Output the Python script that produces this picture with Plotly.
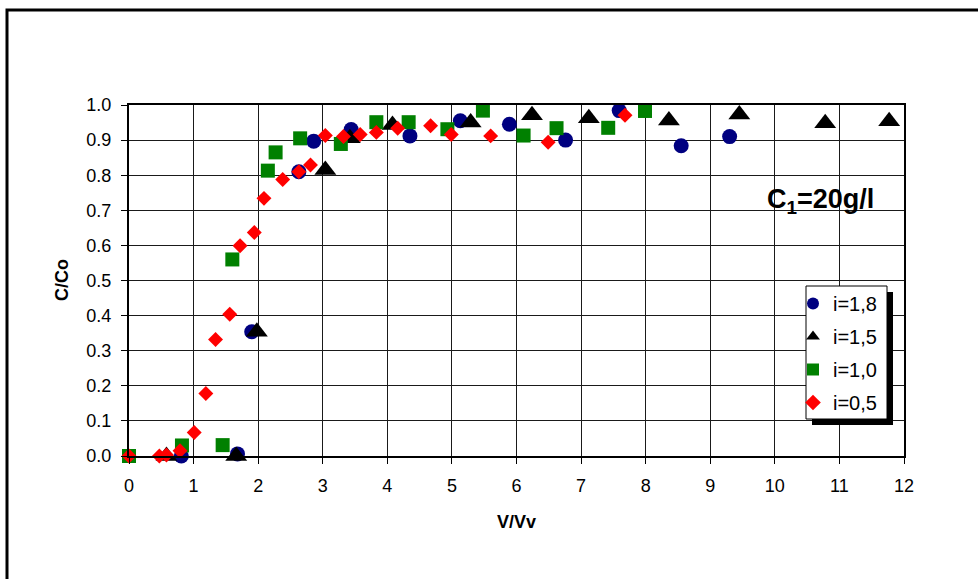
import plotly.graph_objects as go

# Breakthrough curves: relative concentration C/Co vs. pore volumes V/Vv
x_18 = [0.81, 1.68, 1.90, 2.63, 2.86, 3.44, 4.35, 5.13, 5.89, 6.76, 7.59, 8.55, 9.30]
y_18 = [0.000, 0.006, 0.354, 0.810, 0.897, 0.930, 0.912, 0.955, 0.945, 0.900, 0.984, 0.884, 0.910]

x_15 = [0.58, 1.66, 1.98, 3.04, 3.42, 4.08, 5.29, 6.24, 7.12, 8.36, 9.45, 10.78, 11.77]
y_15 = [0.000, 0.000, 0.354, 0.815, 0.905, 0.943, 0.950, 0.971, 0.962, 0.956, 0.973, 0.948, 0.954]

x_10 = [0.00, 0.82, 1.45, 1.60, 2.15, 2.27, 2.65, 3.28, 3.83, 4.33, 4.93, 5.48, 6.11, 6.62, 7.42, 7.99]
y_10 = [0.000, 0.030, 0.031, 0.560, 0.813, 0.865, 0.905, 0.889, 0.951, 0.951, 0.931, 0.984, 0.913, 0.934, 0.935, 0.983]

x_05 = [0.00, 0.47, 0.58, 0.79, 1.01, 1.19, 1.34, 1.56, 1.72, 1.94, 2.09, 2.38, 2.63, 2.81,
        3.04, 3.32, 3.58, 3.83, 4.16, 4.67, 4.99, 5.60, 6.49, 7.68]
y_05 = [0.000, 0.000, 0.003, 0.015, 0.067, 0.178, 0.332, 0.404, 0.599, 0.637, 0.734, 0.788, 0.810, 0.829,
        0.913, 0.910, 0.916, 0.922, 0.934, 0.941, 0.916, 0.912, 0.894, 0.971]

series_names = ["i=1,8", "i=1,5", "i=1,0", "i=0,5"]
series_x = [x_18, x_15, x_10, x_05]
series_y = [y_18, y_15, y_10, y_05]
series_colors = ["#000080", "#000000", "#008000", "#FF0000"]
series_symbols = ["circle", "triangle-up", "square", "diamond"]
series_sizes = [15, 19, 14, 11.5]

x_ticks = list(range(0, 13))
y_ticks = [round(0.1 * k, 1) for k in range(0, 11)]

FONT = "Liberation Sans, Arial, sans-serif"

W, H = 978, 579
L, R, T, B = 129, 904, 105, 456  # plot area in pixels


def px(xp):
    return (xp - L) / (R - L)


def py(yp):
    return (B - yp) / (B - T)


fig = go.Figure()
for k in range(4):
    fig.add_trace(go.Scatter(
        x=series_x[k], y=series_y[k], mode="markers", name=series_names[k],
        legendgroup=series_names[k],
        marker=dict(symbol=series_symbols[k], size=series_sizes[k],
                    color=series_colors[k], line=dict(width=0)),
        cliponaxis=False,
    ))

axis_common = dict(
    showgrid=True, gridcolor="#1a1a1a", gridwidth=1,
    showline=True, linecolor="#000000", linewidth=2, mirror=True,
    ticks="outside", ticklen=6, tickcolor="#000000", tickwidth=1,
    tickfont=dict(family=FONT, size=18, color="#000000"),
    zeroline=False, fixedrange=True,
)

fig.update_xaxes(range=[0, 12], tickvals=x_ticks, ticklabelstandoff=6, **axis_common)
fig.update_yaxes(range=[0, 1], tickvals=y_ticks, tickformat=".1f", ticklabelstandoff=6, **axis_common)

shapes = [
    # outer frame
    dict(type="rect", xref="paper", yref="paper",
         x0=px(7), x1=px(990), y0=py(595), y1=py(10),
         line=dict(color="#000000", width=3), fillcolor="rgba(0,0,0,0)", layer="above"),
    # white patch behind the concentration label
    dict(type="rect", xref="paper", yref="paper",
         x0=px(752), x1=px(889), y0=py(220), y1=py(182),
         line=dict(width=0), fillcolor="#FFFFFF", layer="between"),
    # legend shadow
    dict(type="rect", xref="paper", yref="paper",
         x0=px(812), x1=px(893), y0=py(425), y1=py(292),
         line=dict(width=0), fillcolor="#000000", layer="above"),
    # legend box
    dict(type="rect", xref="paper", yref="paper",
         x0=px(806), x1=px(887), y0=py(419), y1=py(286),
         line=dict(color="#000000", width=1), fillcolor="#FFFFFF", layer="above"),
]

annotations = [
    dict(text="<b>C<sub>1</sub>=20g/l</b>", xref="paper", yref="paper",
         x=px(820), y=py(201), xanchor="center", yanchor="middle", showarrow=False,
         font=dict(family=FONT, size=27, color="#000000")),
    dict(text="<b>V/Vv</b>", xref="paper", yref="paper",
         x=px(516), y=py(522), xanchor="center", yanchor="middle", showarrow=False,
         font=dict(family=FONT, size=18, color="#000000")),
    dict(text="<b>C/Co</b>", xref="paper", yref="paper",
         x=px(62), y=py(280), xanchor="center", yanchor="middle", showarrow=False,
         textangle=-90, font=dict(family=FONT, size=18, color="#000000")),
]

fig.update_layout(
    width=W, height=H,
    margin=dict(l=L, r=W - R, t=T, b=H - B, pad=0),
    paper_bgcolor="#FFFFFF", plot_bgcolor="#FFFFFF",
    showlegend=True,
    legend=dict(
        x=px(793), y=py(284), xanchor="left", yanchor="top",
        bgcolor="rgba(0,0,0,0)", borderwidth=0,
        font=dict(family=FONT, size=20, color="#000000"),
        tracegroupgap=4, itemsizing="constant",
    ),
    shapes=shapes,
    annotations=annotations,
)

fig.write_html("out.html")
